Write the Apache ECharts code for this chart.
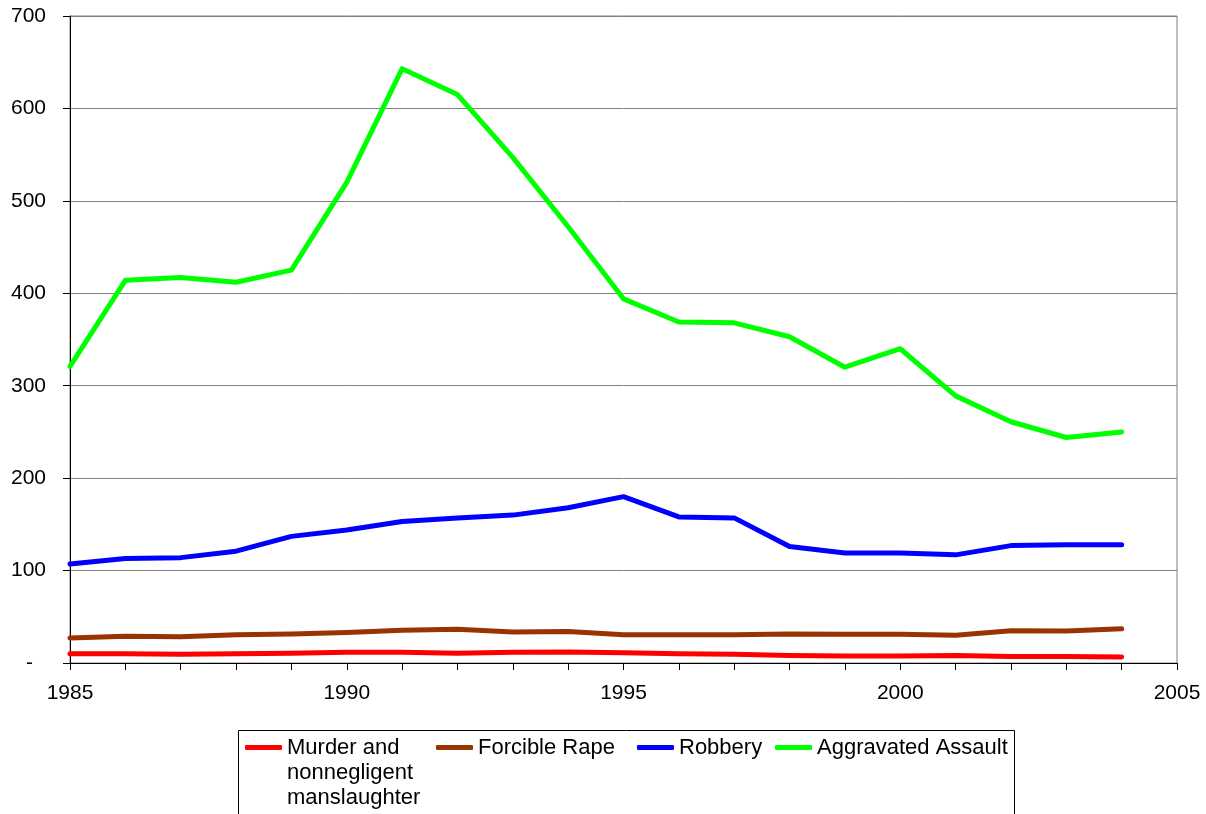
<!DOCTYPE html>
<html lang="en">
  <head>
    <meta charset="UTF-8" />
    <title>Violent crime rates</title>
    <script src="https://cdn.jsdelivr.net/npm/echarts@6/dist/echarts.min.js"></script>
    <style>
      html, body { margin: 0; padding: 0; background: #fff; }
    </style>
  </head>
  <body>
    <div id="chart" style="width: 1206px; height: 814px"></div>

    <script type="text/javascript">
      // values
      const years = [1985, 1986, 1987, 1988, 1989, 1990, 1991, 1992, 1993, 1994,
                     1995, 1996, 1997, 1998, 1999, 2000, 2001, 2002, 2003, 2004];
      const murder = [10, 10, 9.5, 10, 10.5, 11.5, 11.5, 10.5, 11.5, 12,
                      11, 10, 9.5, 8, 7.5, 7.5, 8, 7, 7, 6.5];
      const rape = [27, 29, 28.5, 30.5, 31.5, 33, 35.5, 36.5, 33.5, 34,
                    30.5, 30.5, 30.5, 31.5, 31, 31, 30, 35, 34.5, 37];
      const robbery = [107, 113, 114, 121, 137, 144, 153, 157, 160, 168,
                       180, 158, 157, 126, 119, 119, 117, 127, 128, 128];
      const assault = [321, 414, 417, 412, 425, 520, 643, 615, 547, 472,
                       394, 369, 368, 353, 320, 340, 289, 261, 244, 250];
      const seriesNames = ["Murder and\nnonnegligent\nmanslaughter", "Forcible Rape", "Robbery", "Aggravated Assault"];
      const seriesColors = ["#FF0000", "#993300", "#0000FF", "#00FF00"];
      const seriesValues = [murder, rape, robbery, assault];

      const font = "'Liberation Sans', Arial, sans-serif";
      const chart = echarts.init(document.getElementById("chart"));

      const series = seriesNames.map((name, i) => ({
        name: name,
        type: "line",
        data: years.map((y, j) => [y, seriesValues[i][j]]),
        showSymbol: false,
        color: seriesColors[i],
        lineStyle: { width: 5, cap: "round", join: "round" },
        animation: false,
      }));

      // one legend per entry so each sits where the original has it
      const legendLeft = [245, 436, 637, 775];
      const legends = seriesNames.map((name, i) => ({
        left: legendLeft[i],
        top: i === 0 ? 685 : 735,
        padding: 0,
        selectedMode: false,
        icon: "roundRect",
        itemWidth: 37,
        itemHeight: 5,
        data: [name],
        // two empty lines on top keep the first text line level with the icon
        formatter: i === 0 ? (n) => "\n\n" + n : "{name}",
        textStyle: { color: "#000", fontFamily: font, fontSize: 22, lineHeight: 25 },
      }));

      chart.setOption({
        animation: false,
        grid: {
          left: 70, right: 29, top: 16, bottom: 151,
          show: true, borderColor: "#808080", borderWidth: 1,
        },
        xAxis: {
          type: "value",
          min: 1985, max: 2005, interval: 5,
          axisLine: { lineStyle: { color: "#000", width: 1 } },
          axisTick: { length: 7, lineStyle: { color: "#000" } },
          minorTick: { show: true, splitNumber: 5, length: 7, lineStyle: { color: "#000" } },
          splitLine: { show: false },
          axisLabel: {
            color: "#000", fontFamily: font, fontSize: 21, margin: 20,
            formatter: (v) => String(v),
          },
        },
        yAxis: {
          type: "value",
          min: 0, max: 700, interval: 100,
          axisLine: { show: true, lineStyle: { color: "#000", width: 1 } },
          axisTick: { show: true, length: 7, lineStyle: { color: "#000" } },
          splitLine: { lineStyle: { color: "#808080", width: 1 } },
          axisLabel: {
            color: "#000", fontFamily: font, fontSize: 21, margin: 24,
            formatter: (v) => (v === 0 ? "{d|-}" : String(v)),
            rich: { d: { fontFamily: font, fontSize: 21, color: "#000", padding: [0, 13, 0, 0] } },
          },
        },
        legend: legends,
        graphic: [
          {
            type: "rect",
            left: 236, top: 728,
            shape: { width: 776, height: 120 },
            style: { fill: "none", stroke: "#000", lineWidth: 1 },
            silent: true,
          },
        ],
        series: series,
      });
    </script>
  </body>
</html>
